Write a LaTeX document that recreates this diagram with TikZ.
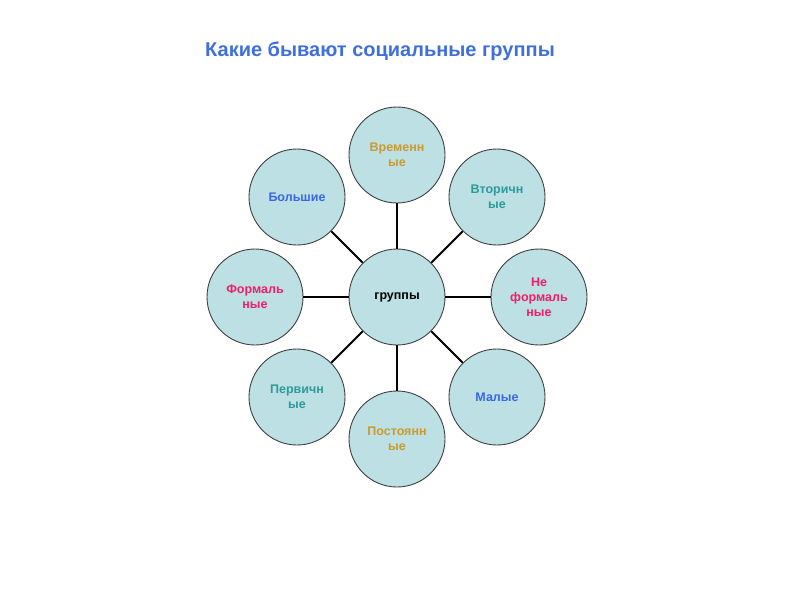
\documentclass[tikz,border=0pt]{standalone}
\usepackage{fontspec}
\setmainfont{Liberation Sans}
\begin{document}
\begin{tikzpicture}[x=1pt,y=-1pt,
  circ/.style={circle,draw=black!75,line width=0.9pt,fill=circfill,minimum size=96pt,inner sep=0pt,align=center,font=\fontsize{12.5}{15}\selectfont\bfseries},
  link/.style={line width=2pt,black}]
\definecolor{circfill}{HTML}{BCE0E3}
\definecolor{cgold}{HTML}{CC9A2E}
\definecolor{cteal}{HTML}{2E9A9A}
\definecolor{cpink}{HTML}{EE1F6A}
\definecolor{cblue}{HTML}{3A66E6}
\definecolor{ctitle}{HTML}{3F6FDB}
\useasboundingbox (0,0) rectangle (800,600);
\node[font=\fontsize{20}{24}\selectfont\bfseries,text=ctitle] (title) at (380,51) {Какие бывают социальные группы};
\node[circ] (c) at (397,297) {группы};
\node[circ,text=cgold] (n1) at (397,155) {Временн\\ые};
\node[circ,text=cteal] (n2) at (497,197) {Вторичн\\ые};
\node[circ,text=cpink] (n3) at (539,297) {Не\\формаль\\ные};
\node[circ,text=cblue] (n4) at (497,397) {Малые};
\node[circ,text=cgold] (n5) at (397,439) {Постоянн\\ые};
\node[circ,text=cteal] (n6) at (297,397) {Первичн\\ые};
\node[circ,text=cpink] (n7) at (255,297) {Формаль\\ные};
\node[circ,text=cblue] (n8) at (297,197) {Большие};
\foreach \n in {n1,n2,n3,n4,n5,n6,n7,n8} \draw[link] (c) -- (\n);
\end{tikzpicture}
\end{document}
